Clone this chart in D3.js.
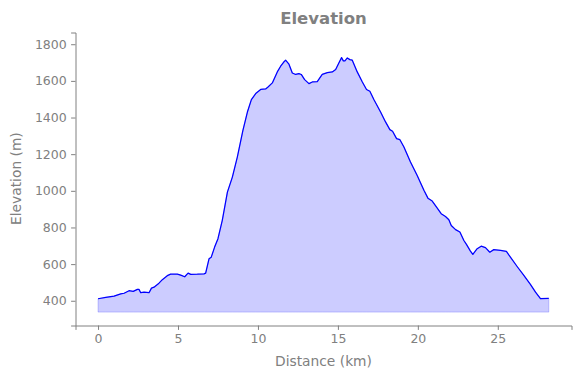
<!DOCTYPE html>
<html><head><meta charset="utf-8">
<script src="https://cdn.jsdelivr.net/npm/d3@7"></script>
<style>body{margin:0;background:#fff}svg{display:block}text{font-family:"DejaVu Sans",sans-serif}</style>
</head><body><svg id="c" width="580" height="378"></svg>
<script>
const distanceKm = [0,0.48,1.0,1.42,1.63,1.94,2.2,2.46,2.56,2.67,2.88,3.19,3.34,3.5,3.81,4.02,4.33,4.54,4.96,5.17,5.42,5.63,5.8,6.21,6.63,6.73,6.94,7.08,7.29,7.5,7.77,8.09,8.4,8.71,9.06,9.34,9.59,9.86,10.17,10.48,10.63,10.9,11.21,11.42,11.59,11.73,11.94,12.15,12.36,12.56,12.71,12.92,13.19,13.4,13.71,14.02,14.34,14.65,14.86,15.06,15.23,15.34,15.44,15.59,15.75,15.9,16.21,16.53,16.79,17.0,17.25,17.67,17.98,18.25,18.42,18.67,18.88,19.13,19.54,19.96,20.38,20.63,20.9,21.17,21.46,21.73,21.94,22.09,22.36,22.63,22.88,23.04,23.29,23.44,23.71,23.96,24.23,24.5,24.75,25.17,25.54,25.79,26.21,26.63,27.04,27.36,27.67,28.19];
const elevationM = [411,418,425,438,441,455,451,462,462,444,447,444,469,474,496,515,537,545,545,540,531,551,544,545,547,551,629,638,693,739,839,993,1075,1184,1330,1430,1498,1531,1553,1556,1567,1589,1649,1680,1700,1713,1691,1643,1635,1640,1635,1607,1585,1594,1596,1635,1645,1649,1662,1698,1727,1709,1709,1725,1716,1713,1649,1594,1553,1543,1498,1430,1376,1334,1325,1285,1279,1239,1157,1084,1003,960,944,911,875,860,842,811,788,775,729,708,671,653,684,698,690,665,679,675,669,638,587,538,489,447,411,413];
const xTicks = [0,5,10,15,20,25];
const yTicks = [400,600,800,1000,1200,1400,1600,1800];
const fillBase = 338;

const svg = d3.select("#c");
const gray = "#808080";
const x = d3.scaleLinear().domain([-1.41, 29.61]).range([75.5, 571.5]);
const y = d3.scaleLinear().domain([265, 1864]).range([325.5, 32.5]);
const data = distanceKm.map((d,i)=>({d, e: elevationM[i]}));

svg.append("path").datum(data)
  .attr("d", d3.area().x(p=>x(p.d)).y0(y(fillBase)).y1(p=>y(p.e)))
  .attr("fill","blue").attr("fill-opacity",0.2)
  .attr("stroke","blue").attr("stroke-opacity",0.2).attr("stroke-width",1);
svg.append("path").datum(data)
  .attr("d", d3.line().x(p=>x(p.d)).y(p=>y(p.e)))
  .attr("fill","none").attr("stroke","blue").attr("stroke-width",1.25).attr("stroke-linejoin","round");

const xa = svg.append("g").attr("transform","translate(0,325.5)")
  .call(d3.axisBottom(x).tickValues(xTicks).tickFormat(d3.format("d")).tickSizeOuter(0).tickSize(4.4).tickPadding(4.4));
const ya = svg.append("g").attr("transform","translate(75.5,0)")
  .call(d3.axisLeft(y).tickValues(yTicks).tickFormat(d3.format("d")).tickSizeOuter(0).tickSize(4.4).tickPadding(4.4));
[xa,ya].forEach(g=>{
  g.select(".domain").attr("stroke",gray).attr("stroke-width",1);
  g.selectAll(".tick line").attr("stroke",gray);
  g.selectAll(".tick text").attr("fill",gray).style("font-size","12.5px").style("font-family","DejaVu Sans");
});

svg.append("text").attr("x",323.5).attr("y",24).attr("text-anchor","middle")
  .attr("fill",gray).style("font-size","16.5px").style("font-weight","bold").text("Elevation");
svg.append("text").attr("x",323.5).attr("y",366).attr("text-anchor","middle")
  .attr("fill",gray).style("font-size","13.8px").text("Distance (km)");
svg.append("text").attr("transform","translate(21,178.6) rotate(-90)").attr("text-anchor","middle")
  .attr("fill",gray).style("font-size","13.8px").text("Elevation (m)");
</script></body></html>
